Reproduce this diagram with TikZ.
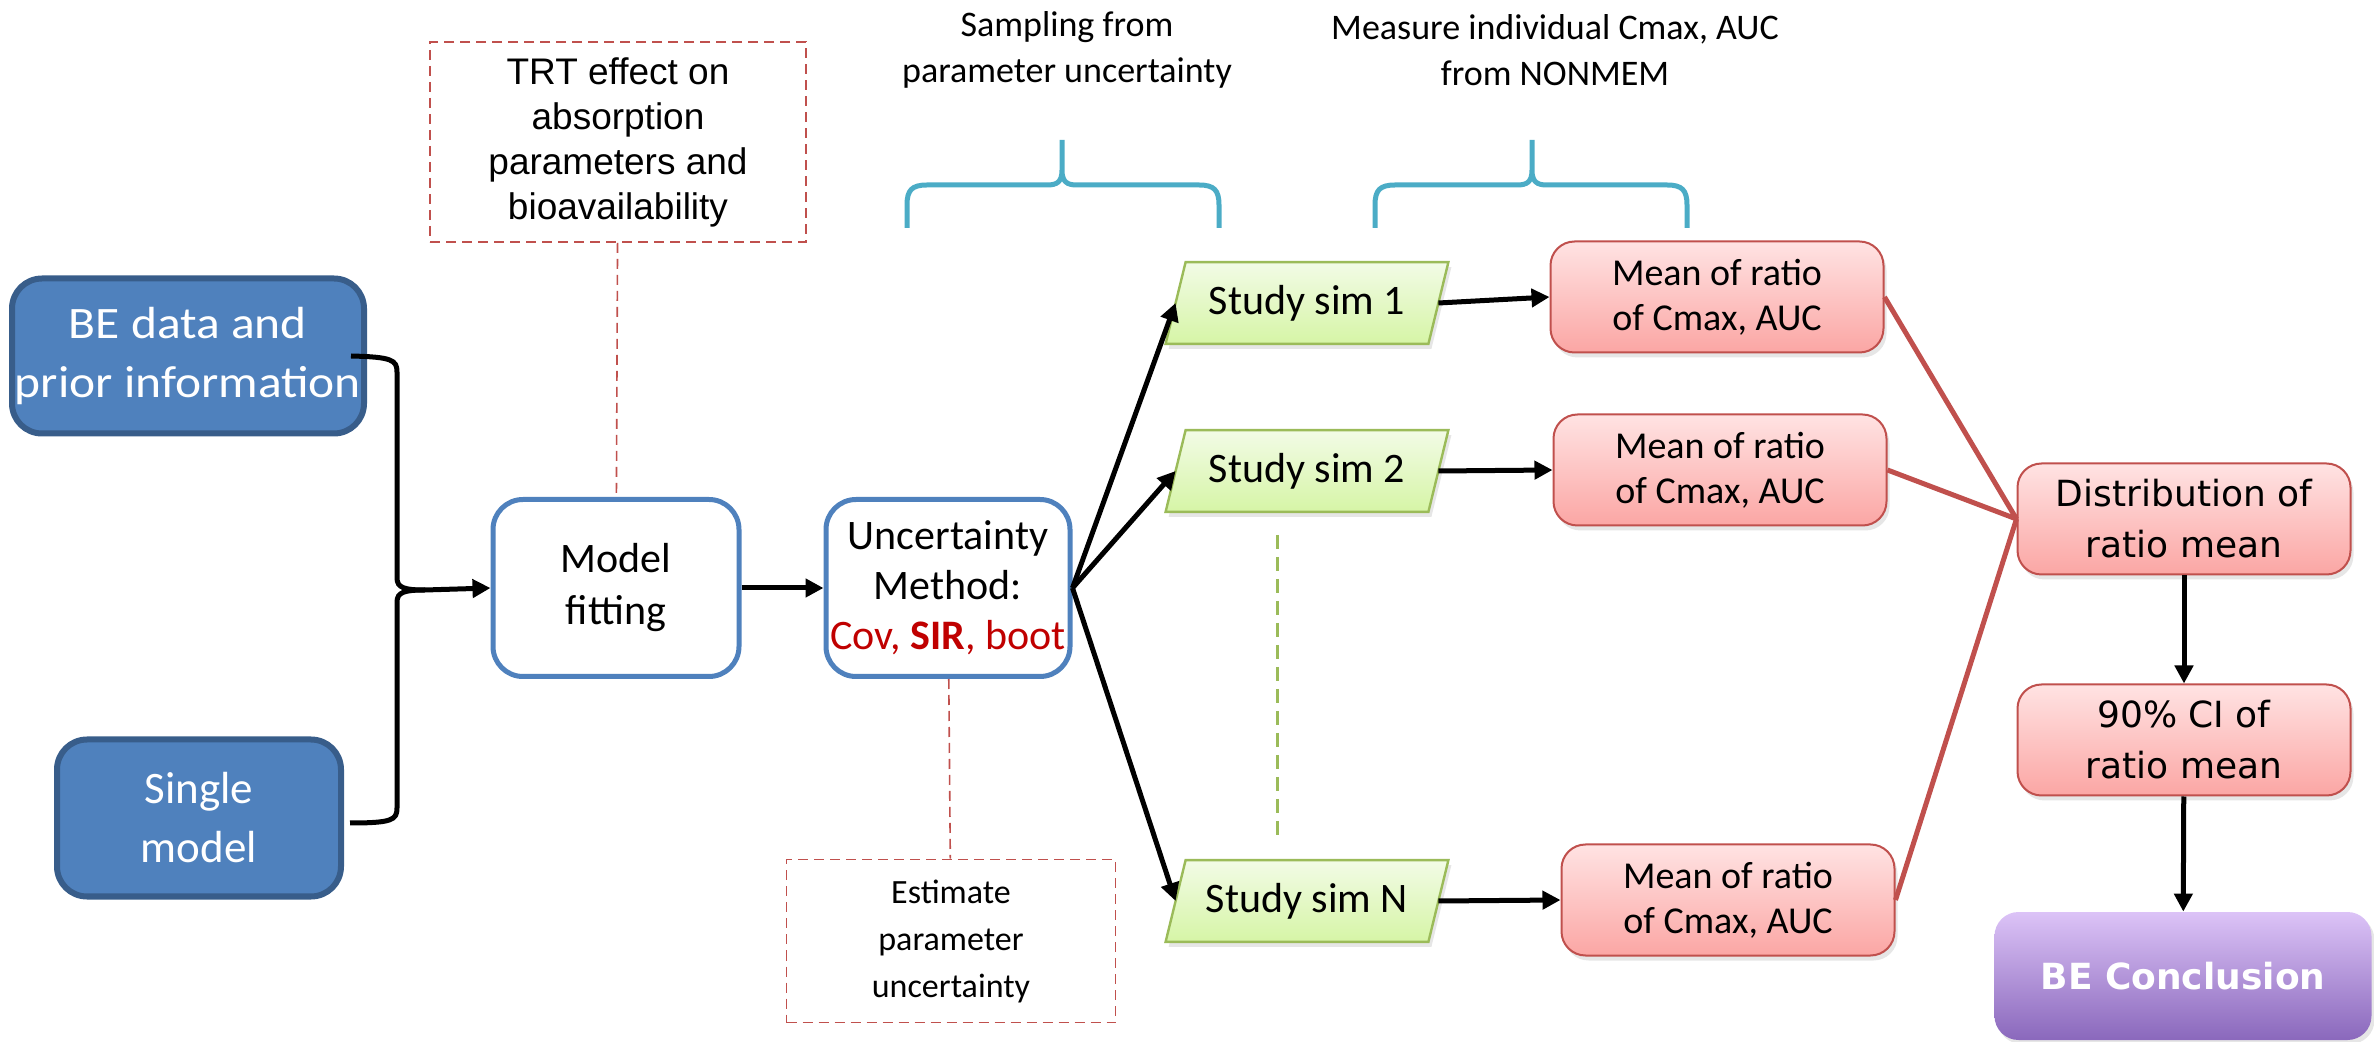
\documentclass[tikz,border=0pt]{standalone}
\usepackage{fontspec}
\setmainfont{Carlito}
\newfontfamily\widefont[FakeStretch=1.1]{Carlito}
\newfontfamily\arialfont{Liberation Sans}
\newfontfamily\verdfont{DejaVu Sans}
\usetikzlibrary{arrows.meta,shadows,backgrounds}

\definecolor{boxblue}{HTML}{4F81BD}
\definecolor{boxblueline}{HTML}{385D8A}
\definecolor{linered}{HTML}{C0504D}
\definecolor{textred}{HTML}{C00000}
\definecolor{braceteal}{HTML}{4BACC6}
\definecolor{simgreen}{HTML}{9BBB59}
\definecolor{simtop}{HTML}{F2FBE6}
\definecolor{simbot}{HTML}{D6F5A6}
\definecolor{meantop}{HTML}{FFE3E3}
\definecolor{meanbot}{HTML}{FBA6A4}
\definecolor{conctop}{HTML}{DCC3F7}
\definecolor{concbot}{HTML}{8A68BC}

\newcommand{\fsz}[2]{\fontsize{#1}{#2}\selectfont}

\tikzset{
  inbox/.style={rounded corners=15pt, fill=boxblue, draw=boxblueline, line width=3pt, text=white, align=center, inner sep=0pt, font=\fsz{22.5}{29.5}},
  fitbox/.style={rounded corners=15pt, fill=white, draw=boxblue, line width=2.5pt, align=center, inner sep=0pt, minimum width=123pt, minimum height=88.5pt},
  notebox/.style={draw=linered, line width=0.8pt, dash pattern=on 5pt off 3pt, align=center, inner sep=0pt},
  simbox/.style={minimum width=131pt, minimum height=40.5pt, inner sep=0pt, font=\fsz{21}{25}},
  simshape/.style={draw=simgreen, line width=1.2pt, top color=simtop, bottom color=simbot, drop shadow={opacity=0.2, shadow xshift=1.5pt, shadow yshift=-2.5pt}},
  meanbox/.style={rounded corners=12pt, draw=linered, line width=1pt, top color=meantop, bottom color=meanbot, align=center, inner sep=0pt, minimum width=166.5pt, minimum height=55.5pt, drop shadow={opacity=0.2, shadow xshift=1.5pt, shadow yshift=-2.5pt}},
  flow/.style={line width=2.5pt, -{Triangle[length=9pt,width=9pt]}},
  merge/.style={line width=2.5pt, linered},
  note/.style={line width=0.8pt, linered, dash pattern=on 5pt off 3pt},
  brace/.style={line width=2.5pt, braceteal},
  gapline/.style={line width=1.5pt, simgreen, dash pattern=on 7pt off 4pt},
  toplabel/.style={align=center, inner sep=0pt, font=\fsz{18}{23}},
}

\begin{document}
\begin{tikzpicture}[x=0.5pt, y=-0.5pt]
\useasboundingbox (0,0) rectangle (2374,1042);

\node[inbox, minimum width=176pt, minimum height=77.5pt, font=\widefont\fsz{22.5}{29.5}] (data) at (188,356) {BE data and\\prior information};
\node[inbox, minimum width=142pt, minimum height=78.5pt] (single) at (199,818) {Single\\model};
\node[fitbox, font=\fsz{21}{26}] (fit) at (616,588) {Model\\fitting};
\node[fitbox, minimum width=122pt, font=\fsz{21}{25}] (unc) at (948,588) {Uncertainty\\Method:\\\textcolor{textred}{Cov, \textbf{SIR}, boot}};

\node[notebox, minimum width=188pt, minimum height=100pt, font=\arialfont\fsz{18.5}{22.5}] (trt) at (618,142) {TRT effect on\\absorption\\parameters and\\bioavailability};
\node[notebox, minimum width=164.5pt, minimum height=81.5pt, font=\fsz{17}{23.5}] (est) at (951,941) {Estimate\\parameter\\uncertainty};

\node[toplabel] (samplbl) at (1067,50) {Sampling from\\parameter uncertainty};
\node[toplabel] (measlbl) at (1555,50) {Measure individual Cmax, AUC\\from NONMEM};

\foreach \n/\y in {1/303, 2/471, N/901}
  \node[simbox] (sim\n) at (1307,\y) {Study sim \n};
\begin{scope}[on background layer]
\foreach \n in {1,2,N}
  \draw[simshape] ([xshift=5pt]sim\n.north west) -- ([xshift=5pt]sim\n.north east) -- ([xshift=-5pt]sim\n.south east) -- ([xshift=-5pt]sim\n.south west) -- cycle;
\end{scope}

\foreach \n/\x/\y in {1/1717/297, 2/1720/470, N/1728/900}
  \node[meanbox, font=\fsz{19}{22.5}] (mean\n) at (\x,\y) {Mean of ratio\\of Cmax, AUC};

\node[meanbox, font=\verdfont\fsz{18}{25.5}] (dist) at (2184,519) {Distribution of\\ratio mean};
\node[meanbox, font=\verdfont\fsz{18}{25.5}] (ci) at (2184,740) {90\% CI of\\ratio mean};
\node[rounded corners=12pt, top color=conctop, bottom color=concbot, minimum width=188.5pt, minimum height=64pt, inner sep=0pt, text=white, font=\verdfont\bfseries\fsz{18}{21}, drop shadow={opacity=0.2, shadow xshift=1.5pt, shadow yshift=-2pt}] (concl) at (2183,976) {BE Conclusion};

\coordinate (join) at (425,590);
\draw[line width=2.5pt] ([xshift=-8pt]data.east) .. controls (392,357) and (397,360) .. (397,372) -- (397,578) .. controls (397,588) and (405,590) .. (join);
\draw[line width=2.5pt] ([shift={(3pt,-2.5pt)}]single.east) .. controls (392,823) and (397,820) .. (397,808) -- (397,602) .. controls (397,592) and (405,590) .. (join);
\draw[flow] (join) -- (fit.west);
\draw[flow] (fit) -- (unc);

\foreach \n in {1,2,N} {
  \draw[flow] (unc.east) -- (sim\n.west);
  \draw[flow] (sim\n.east) -- (mean\n.west);
  \draw[merge] (mean\n.east) -- (dist.west);
}
\draw[flow] (dist) -- (ci);
\draw[flow] (ci) -- (concl);

\draw[note] (trt) -- (fit);
\draw[note] (unc) -- (est);

\coordinate (gaptop) at (1277,535);
\coordinate (gapbot) at (1277,837);
\draw[gapline] (gaptop) -- (gapbot);

\foreach \l/\m/\r in {907/1062/1219, 1375/1532/1687}
  \draw[brace] (\l,228) -- (\l,205) .. controls (\l,190) and (\l+5,185) .. (\l+20,185) -- (\m-15,185) .. controls (\m-5,185) and (\m,182) .. (\m,170) -- (\m,140) -- (\m,170) .. controls (\m,182) and (\m+5,185) .. (\m+15,185) -- (\r-20,185) .. controls (\r-5,185) and (\r,190) .. (\r,205) -- (\r,228);

\end{tikzpicture}
\end{document}
